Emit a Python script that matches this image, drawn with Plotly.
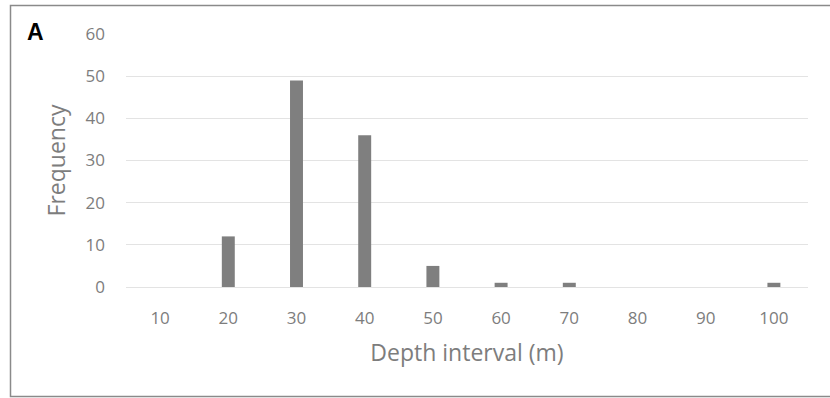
import plotly.graph_objects as go

categories = ["10", "20", "30", "40", "50", "60", "70", "80", "90", "100"]
frequency = [0, 12, 49, 36, 5, 1, 1, 0, 0, 1]
y_ticks = [0, 10, 20, 30, 40, 50, 60]

W, H = 830, 398
L, R, T, B = 126, 22, 34, 111
pw, ph = W - L - R, H - T - B

def px_to_paper_x(x):
    return (x - L) / pw

def px_to_paper_y(y):
    return (H - B - y) / ph

fig = go.Figure()
fig.add_trace(go.Bar(
    x=categories, y=frequency,
    marker=dict(color="#7f7f7f", line=dict(width=0)),
    width=0.19,
))

font_family = "Open Sans, Liberation Sans, sans-serif"
text_color = "#7d7d7d"
fig.update_layout(
    width=W, height=H,
    margin=dict(l=L, r=R, t=T, b=B),
    paper_bgcolor="white", plot_bgcolor="white",
    showlegend=False,
    font=dict(family=font_family, color=text_color),
    xaxis=dict(
        type="category",
        showgrid=False, zeroline=False, showline=False, ticks="",
        tickfont=dict(size=17, color=text_color),
        ticklabelstandoff=19,
        title=dict(text="Depth interval (m)", font=dict(size=23, color=text_color), standoff=16),
    ),
    yaxis=dict(
        range=[0, 60], tickvals=y_ticks,
        showgrid=True, gridcolor="#e3e3e3", gridwidth=1,
        zeroline=True, zerolinecolor="#e3e3e3", zerolinewidth=1,
        showline=False, ticks="",
        tickfont=dict(size=17, color=text_color),
        ticklabelstandoff=20,
        title=dict(text="Frequency", font=dict(size=23, color=text_color), standoff=13),
    ),
)

fig.add_shape(
    type="rect", xref="paper", yref="paper",
    x0=px_to_paper_x(10.5), x1=px_to_paper_x(835), y0=px_to_paper_y(396.5), y1=px_to_paper_y(5.5),
    line=dict(color="#8a8a8a", width=1.5), fillcolor="rgba(0,0,0,0)", layer="below",
)

fig.add_annotation(
    text="<b>A</b>", xref="paper", yref="paper",
    x=px_to_paper_x(35.5), y=px_to_paper_y(32),
    showarrow=False, xanchor="center", yanchor="middle",
    font=dict(size=23, color="black", family="Liberation Sans, Arial, sans-serif"),
)

fig.write_html(
    "out.html",
    config={"displayModeBar": False},
    post_script="document.body.style.margin='0';document.body.style.padding='0';document.body.style.overflow='hidden';",
)
